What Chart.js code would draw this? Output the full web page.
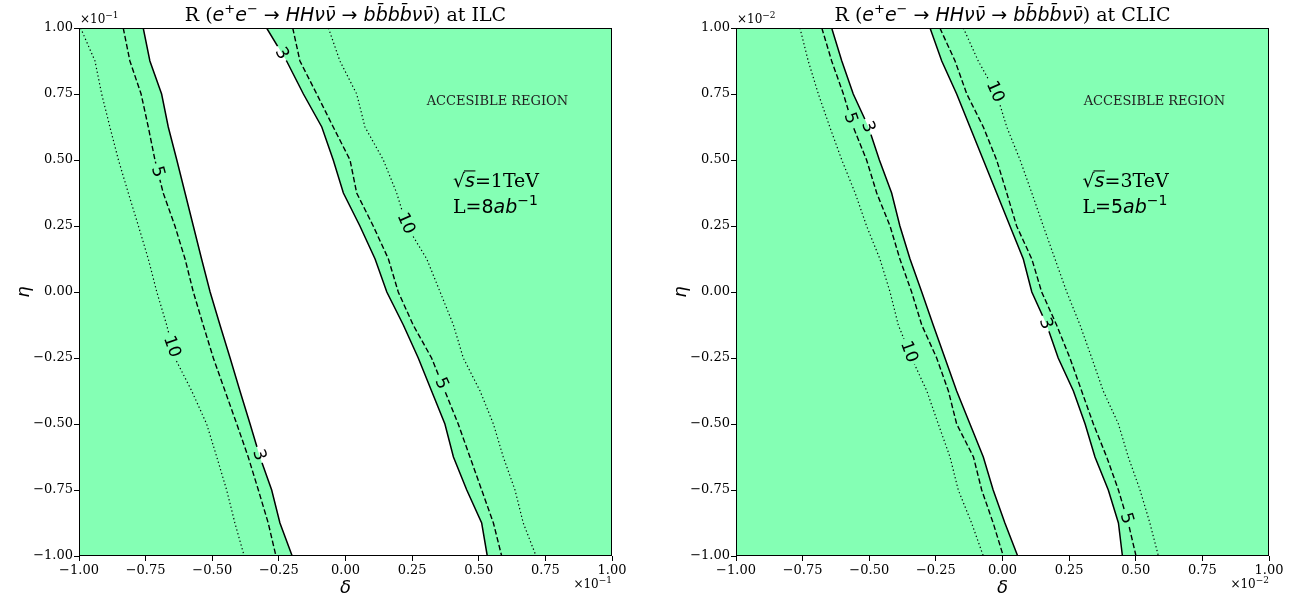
<!DOCTYPE html>
<html><head><meta charset="utf-8">
<script src="https://cdn.jsdelivr.net/npm/chart.js@4.4.1/dist/chart.umd.min.js"></script>
<style>
html,body{margin:0;padding:0;background:#fff;}
#wrap{position:relative;width:1299px;height:600px;}
.c{position:absolute;top:0;height:600px;}
</style></head><body>
<div id="wrap">
<div class="c" style="left:0;width:650px"><canvas id="ilc"></canvas></div>
<div class="c" style="left:650px;width:649px"><canvas id="clic"></canvas></div>
</div>
<script>
// ---- data (delta in units of the axis offset, eta) ----
const etaGrid = [1, 0.875, 0.75, 0.625, 0.5, 0.375, 0.25, 0.125, 0, -0.125, -0.25, -0.375, -0.5, -0.625, -0.75, -0.875, -1];
const xTicks = [-1, -0.75, -0.5, -0.25, 0, 0.25, 0.5, 0.75, 1];
const yTicks = [-1, -0.75, -0.5, -0.25, 0, 0.25, 0.5, 0.75, 1];

// ILC (delta x 1e-1)
const ilcR3Left   = [-0.759, -0.734, -0.690, -0.665, -0.633, -0.602, -0.571, -0.540, -0.508, -0.471, -0.433, -0.396, -0.358, -0.321, -0.277, -0.246, -0.200];
const ilcR5Left   = [-0.834, -0.809, -0.767, -0.740, -0.715, -0.684, -0.640, -0.602, -0.571, -0.534, -0.496, -0.452, -0.408, -0.365, -0.327, -0.290, -0.261];
const ilcR10Left  = [-0.994, -0.940, -0.915, -0.884, -0.852, -0.815, -0.777, -0.740, -0.708, -0.671, -0.640, -0.577, -0.521, -0.483, -0.446, -0.415, -0.380];
const ilcR3Right  = [-0.296, -0.221, -0.158, -0.089, -0.046, -0.008, 0.054, 0.111, 0.155, 0.217, 0.273, 0.323, 0.373, 0.405, 0.455, 0.511, 0.532];
const ilcR5Right  = [-0.198, -0.171, -0.108, -0.046, 0.017, 0.042, 0.104, 0.161, 0.198, 0.254, 0.323, 0.373, 0.423, 0.467, 0.511, 0.555, 0.586];
const ilcR10Right = [-0.064, -0.021, 0.042, 0.073, 0.142, 0.192, 0.230, 0.305, 0.355, 0.405, 0.442, 0.505, 0.555, 0.592, 0.636, 0.667, 0.715];
const ilcLabelText = ['3', '5', '10', '10', '5', '3'];
const ilcLabelLine = ['r3R', 'r5L', 'r10R', 'r10L', 'r5R', 'r3L'];
const ilcLabelEta  = [0.904, 0.456, 0.260, -0.207, -0.346, -0.617];

// CLIC (delta x 1e-2)
const clicR3Left   = [-0.641, -0.603, -0.560, -0.503, -0.462, -0.416, -0.385, -0.347, -0.303, -0.260, -0.216, -0.172, -0.122, -0.072, -0.035, 0.009, 0.057];
const clicR5Left   = [-0.678, -0.641, -0.597, -0.560, -0.510, -0.472, -0.422, -0.385, -0.341, -0.303, -0.247, -0.203, -0.172, -0.109, -0.078, -0.035, 0.003];
const clicR10Left  = [-0.760, -0.729, -0.691, -0.648, -0.603, -0.553, -0.510, -0.460, -0.422, -0.391, -0.341, -0.284, -0.241, -0.197, -0.166, -0.116, -0.072];
const clicR3Right  = [-0.272, -0.228, -0.172, -0.122, -0.072, -0.022, 0.028, 0.078, 0.110, 0.166, 0.209, 0.266, 0.310, 0.347, 0.397, 0.435, 0.450];
const clicR5Right  = [-0.235, -0.178, -0.134, -0.072, -0.022, 0.016, 0.053, 0.110, 0.147, 0.203, 0.253, 0.297, 0.341, 0.391, 0.435, 0.472, 0.501];
const clicR10Right = [-0.147, -0.091, -0.022, 0.016, 0.066, 0.110, 0.153, 0.197, 0.241, 0.291, 0.335, 0.378, 0.435, 0.472, 0.516, 0.553, 0.585];
const clicLabelText = ['10', '5', '3', '10', '3', '5'];
const clicLabelLine = ['r10R', 'r5L', 'r3L', 'r10L', 'r3R', 'r5R'];
const clicLabelEta  = [0.759, 0.658, 0.626, -0.226, -0.119, -0.857];

// ---- styling ----
const GREEN = '#84ffb4';
const SERIF = '"DejaVu Serif", serif';
const SANS = '"DejaVu Sans", sans-serif';
const LABEL_FONT = `17px ${SANS}`;

function pts(deltas) { return deltas.map((d, i) => ({x: d, y: etaGrid[i]})); }
function fmt(v) { return (v < 0 ? '\u2212' : '') + Math.abs(v).toFixed(2); }

function rich(ctx, x, y, segs, align) {
  let w = 0;
  segs.forEach(s => { ctx.font = s.f; s.w = ctx.measureText(s.t).width; w += s.w; });
  let cx = align === 'center' ? x - w / 2 : (align === 'right' ? x - w : x);
  ctx.textAlign = 'left'; ctx.textBaseline = 'alphabetic';
  segs.forEach(s => {
    ctx.font = s.f;
    ctx.fillText(s.t, cx, y + (s.dy || 0));
    if (s.over) {
      ctx.save(); ctx.lineWidth = 1.1; ctx.strokeStyle = ctx.fillStyle;
      ctx.beginPath(); ctx.moveTo(cx - 1, y - s.over); ctx.lineTo(cx + s.w + 0.5, y - s.over); ctx.stroke();
      ctx.restore();
    }
    cx += s.w;
  });
}

function titleSegs(where) {
  const it = `italic 19px ${SANS}`, up = `19px ${SANS}`, sup = `13px ${SANS}`, se = `19px ${SERIF}`;
  return [
    {t: 'R (', f: se}, {t: 'e', f: it}, {t: '+', f: sup, dy: -8}, {t: 'e', f: it}, {t: '\u2212', f: sup, dy: -8},
    {t: ' \u2192 ', f: up}, {t: 'HH\u03BD\u03BD\u0304', f: it}, {t: ' \u2192 ', f: up},
    {t: 'bb\u0304bb\u0304\u03BD\u03BD\u0304', f: it}, {t: ') at ' + where, f: se}
  ];
}

function labelGeom(chart, cfg) {
  const out = [];
  const ys = chart.scales.y;
  cfg.labelText.forEach((txt, i) => {
    const dsIdx = chart.data.datasets.findIndex(d => d.key === cfg.labelLine[i]);
    const P = chart.getDatasetMeta(dsIdx).data;
    const py = ys.getPixelForValue(cfg.labelEta[i]);
    let k = 0;
    for (let j = 0; j < P.length - 1; j++) { if (py >= P[j].y && py <= P[j + 1].y) { k = j; break; } }
    const t = (py - P[k].y) / ((P[k + 1].y - P[k].y) || 1);
    const px = P[k].x + t * (P[k + 1].x - P[k].x);
    const a = P[Math.max(0, k - 1)], b = P[Math.min(P.length - 1, k + 2)];
    let ang = Math.atan2(b.y - a.y, b.x - a.x);
    if (ang > Math.PI / 2) ang -= Math.PI; if (ang < -Math.PI / 2) ang += Math.PI;
    chart.ctx.font = LABEL_FONT;
    const tw = chart.ctx.measureText(txt).width;
    out.push({txt, key: cfg.labelLine[i], px, py, ang, hl: tw / 2 + 3, hc: 7});
  });
  return out;
}

function makeChart(id, cfg) {
  const lines = [
    {key: 'r3L', d: cfg.r3L, dash: [], w: 1.5},
    {key: 'r3R', d: cfg.r3R, dash: [], w: 1.5},
    {key: 'r5L', d: cfg.r5L, dash: [5.5, 2.6], w: 1.4},
    {key: 'r5R', d: cfg.r5R, dash: [5.5, 2.6], w: 1.4},
    {key: 'r10L', d: cfg.r10L, dash: [1.3, 2.6], w: 1.2},
    {key: 'r10R', d: cfg.r10R, dash: [1.3, 2.6], w: 1.2}
  ];
  const datasets = [
    {data: pts(cfg.r3L), indexAxis: 'y', fill: {value: -1}, backgroundColor: GREEN, borderColor: 'rgba(0,0,0,0)', borderWidth: 0, pointRadius: 0, order: 5},
    {data: pts(cfg.r3R), indexAxis: 'y', fill: {value: 1}, backgroundColor: GREEN, borderColor: 'rgba(0,0,0,0)', borderWidth: 0, pointRadius: 0, order: 5}
  ];
  lines.forEach(l => datasets.push({key: l.key, data: pts(l.d), indexAxis: 'y', fill: false, borderColor: '#000',
    borderWidth: l.w, borderDash: l.dash, pointRadius: 0, order: 0, borderCapStyle: 'butt'}));

  const plugin = {
    id: 'deco',
    beforeDatasetDraw(chart, args) {
      const ds = chart.data.datasets[args.index];
      chart.$clip = false;
      if (!ds.key) return;
      const labs = labelGeom(chart, cfg).filter(g => g.key === ds.key);
      if (!labs.length) return;
      const ctx = chart.ctx, A = chart.chartArea;
      ctx.save(); ctx.beginPath();
      ctx.rect(A.left - 3, A.top - 3, A.width + 6, A.height + 6);
      labs.forEach(g => {
        const c = Math.cos(g.ang), s = Math.sin(g.ang);
        const corner = (u, v) => [g.px + u * c - v * s, g.py + u * s + v * c];
        const q = [corner(-g.hl, -g.hc), corner(g.hl, -g.hc), corner(g.hl, g.hc), corner(-g.hl, g.hc)];
        ctx.moveTo(q[0][0], q[0][1]); q.slice(1).forEach(p => ctx.lineTo(p[0], p[1])); ctx.closePath();
      });
      ctx.clip('evenodd');
      chart.$clip = true;
    },
    afterDatasetDraw(chart) {
      if (chart.$clip) { chart.ctx.restore(); chart.$clip = false; }
    },
    afterDatasetsDraw(chart) {
      const ctx = chart.ctx, A = chart.chartArea;
      ctx.save();
      // contour labels
      ctx.fillStyle = '#000';
      labelGeom(chart, cfg).forEach(g => {
        ctx.save(); ctx.translate(g.px, g.py); ctx.rotate(g.ang);
        ctx.font = LABEL_FONT; ctx.textAlign = 'center'; ctx.textBaseline = 'middle';
        ctx.fillText(g.txt, 0, 0.5); ctx.restore();
      });
      // frame
      ctx.strokeStyle = '#000'; ctx.lineWidth = 1;
      ctx.strokeRect(Math.round(A.left) + 0.5, Math.round(A.top) + 0.5, Math.round(A.width) - 1, Math.round(A.height) - 1);
      const xs = chart.scales.x, ys = chart.scales.y;
      // annotations
      ctx.fillStyle = '#222';
      ctx.font = `13px ${SERIF}`; ctx.textAlign = 'center'; ctx.textBaseline = 'middle';
      ctx.fillText('ACCESIBLE REGION', xs.getPixelForValue(cfg.accDelta), ys.getPixelForValue(0.72));
      ctx.fillStyle = '#000';
      const lx = xs.getPixelForValue(cfg.infoDelta);
      rich(ctx, lx, ys.getPixelForValue(0.398), [
        {t: '\u221A', f: `19px ${SANS}`}, {t: 's', f: `italic 19px ${SANS}`, over: 16},
        {t: '=', f: `19px ${SANS}`}, {t: cfg.energy, f: `19px ${SERIF}`}], 'left');
      rich(ctx, lx, ys.getPixelForValue(0.299), [
        {t: 'L=', f: `19px ${SERIF}`}, {t: cfg.lumi, f: `19px ${SANS}`}, {t: 'ab', f: `italic 19px ${SANS}`},
        {t: '\u22121', f: `14px ${SANS}`, dy: -8}], 'left');
      // title
      rich(ctx, (A.left + A.right) / 2, 21, titleSegs(cfg.where), 'center');
      // offsets
      const off = [{t: '\u00D710', f: `12px ${SERIF}`}, {t: '\u2212' + cfg.exp, f: `9px ${SERIF}`, dy: -5}];
      rich(ctx, A.left + 1, 23, off.map(o => ({...o})), 'left');
      rich(ctx, A.right, 588, off.map(o => ({...o})), 'right');
      // axis labels
      ctx.font = `italic 18px ${SANS}`; ctx.textAlign = 'center'; ctx.textBaseline = 'middle';
      ctx.fillText('\u03B4', (A.left + A.right) / 2, 588);
      ctx.save(); ctx.translate(A.left - 55, (A.top + A.bottom) / 2); ctx.rotate(-Math.PI / 2);
      ctx.fillText('\u03B7', 0, 0); ctx.restore();
      ctx.restore();
    }
  };

  const tickFont = {family: SERIF, size: 13};
  return new Chart(document.getElementById(id), {
    type: 'line',
    data: {datasets},
    options: {
      responsive: true, maintainAspectRatio: false, animation: false,
      layout: {padding: {top: 28, right: cfg.padRight, left: 0, bottom: 0}},
      plugins: {legend: {display: false}, tooltip: {enabled: false}, title: {display: false}},
      scales: {
        x: {type: 'linear', min: -1, max: 1,
          afterBuildTicks: s => { s.ticks = xTicks.map(v => ({value: v})); },
          afterFit: s => { s.height = 44; },
          ticks: {callback: v => fmt(v), font: tickFont, color: '#000', padding: 2, maxRotation: 0, autoSkip: false},
          grid: {drawOnChartArea: false, drawTicks: true, tickLength: 5, color: '#000'},
          border: {display: false}},
        y: {type: 'linear', min: -1, max: 1,
          afterBuildTicks: s => { s.ticks = yTicks.map(v => ({value: v})); },
          afterFit: s => { s.width = cfg.yWidth; },
          ticks: {callback: v => fmt(v), font: tickFont, color: '#000', padding: 1, autoSkip: false},
          grid: {drawOnChartArea: false, drawTicks: true, tickLength: 5, color: '#000'},
          border: {display: false}}
      }
    },
    plugins: [plugin]
  });
}

makeChart('ilc', {
  r3L: ilcR3Left, r3R: ilcR3Right, r5L: ilcR5Left, r5R: ilcR5Right, r10L: ilcR10Left, r10R: ilcR10Right,
  labelText: ilcLabelText, labelLine: ilcLabelLine, labelEta: ilcLabelEta,
  where: 'ILC', energy: '1TeV', lumi: '8', exp: '1', accDelta: 0.57, infoDelta: 0.403,
  yWidth: 79, padRight: 38
});
makeChart('clic', {
  r3L: clicR3Left, r3R: clicR3Right, r5L: clicR5Left, r5R: clicR5Right, r10L: clicR10Left, r10R: clicR10Right,
  labelText: clicLabelText, labelLine: clicLabelLine, labelEta: clicLabelEta,
  where: 'CLIC', energy: '3TeV', lumi: '5', exp: '2', accDelta: 0.57, infoDelta: 0.30,
  yWidth: 86, padRight: 30
});
</script>
</body></html>
